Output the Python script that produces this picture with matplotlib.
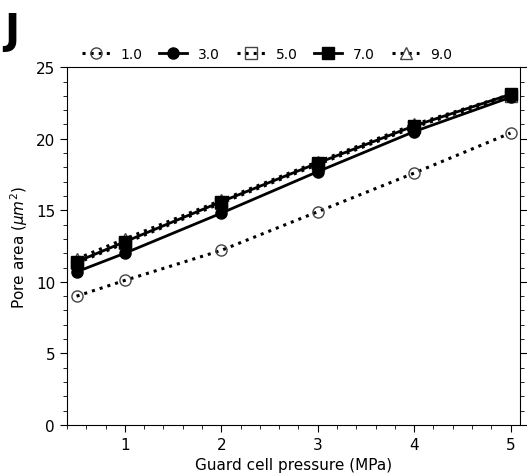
import numpy as np
import matplotlib
matplotlib.use("Agg")
import matplotlib.pyplot as plt
from matplotlib.ticker import MultipleLocator

# guard cell pressure (MPa)
pressure = [0.5, 1, 2, 3, 4, 5]

# pore area for each series
area_1 = [9.0, 10.1, 12.2, 14.9, 17.6, 20.4]
area_3 = [10.7, 12.0, 14.8, 17.7, 20.5, 22.9]
area_5 = [11.3, 12.7, 15.5, 18.2, 20.8, 23.0]
area_7 = [11.4, 12.8, 15.6, 18.3, 20.9, 23.1]
area_9 = [11.6, 13.0, 15.7, 18.4, 21.0, 23.1]

labels = ["1.0", "3.0", "5.0", "7.0", "9.0"]

fig = plt.figure(figsize=(5.27, 4.77), dpi=100)
ax = fig.add_axes([0.127, 0.107, 0.860, 0.750])

ms = 8
open_kw = dict(ls=":", lw=2.2, color="k", ms=ms, mfc="none", mec="#444444", mew=1)
solid_kw = dict(ls="-", lw=2, color="k", ms=ms, mfc="k", mec="k")
ax.plot(pressure, area_1, marker="o", label=labels[0], zorder=2, **open_kw)
ax.plot(pressure, area_3, marker="o", label=labels[1], zorder=3, **solid_kw)
ax.plot(pressure, area_5, marker="s", label=labels[2], zorder=2, **open_kw)
ax.plot(pressure, area_7, marker="s", label=labels[3], zorder=3, **solid_kw)
ax.plot(pressure, area_9, marker="^", label=labels[4], zorder=2, **open_kw)

ax.set_xlim(0.4, 5.1)
ax.set_ylim(0, 25)
ax.xaxis.set_major_locator(MultipleLocator(1))
ax.xaxis.set_minor_locator(MultipleLocator(0.2))
ax.yaxis.set_major_locator(MultipleLocator(5))
ax.yaxis.set_minor_locator(MultipleLocator(1))
ax.tick_params(which="both", right=True, labelsize=11)
ax.tick_params(which="major", length=5)
ax.tick_params(which="minor", length=3)

ax.set_xlabel("Guard cell pressure (MPa)", fontsize=11)
ax.set_ylabel(r"Pore area ($\mu m^2$)", fontsize=11)

fig.legend(loc="center", bbox_to_anchor=(0.507, 0.885), ncol=5,
           frameon=False, fontsize=10, handlelength=2.0, columnspacing=1.2,
           handletextpad=0.8, borderaxespad=0)

fig.text(0.008, 0.975, "J", fontsize=29, fontweight="heavy", va="top", ha="left")

fig.savefig("out.png", dpi=100)
